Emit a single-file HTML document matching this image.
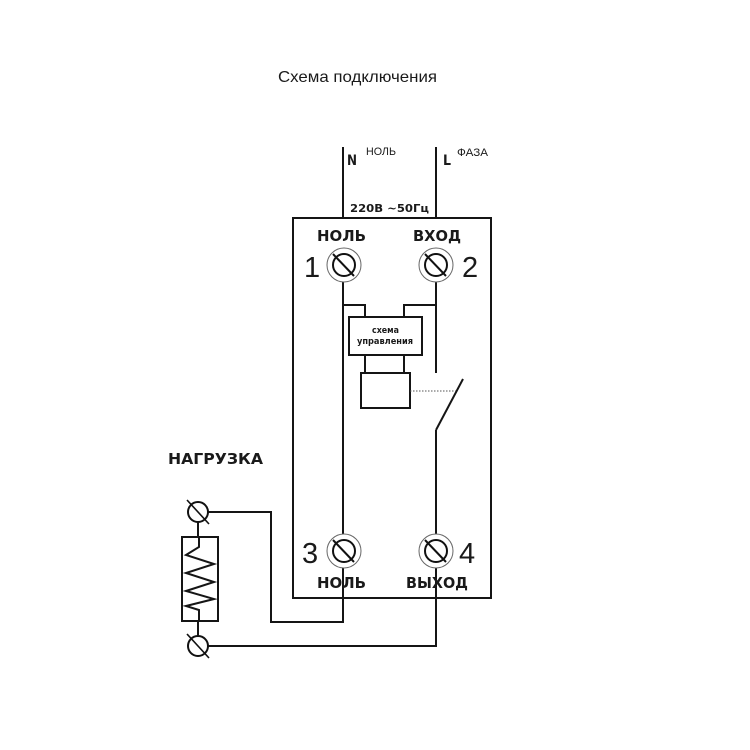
<!DOCTYPE html>
<html>
<head>
<meta charset="utf-8">
<style>
html,body{margin:0;padding:0;background:#fff;}
svg{display:block;}
.b{font-family:"DejaVu Sans","Liberation Sans",sans-serif;font-weight:bold;fill:#1a1a1a;}
.r{font-family:"Liberation Sans","DejaVu Sans",sans-serif;fill:#1a1a1a;}
</style>
</head>
<body>
<svg width="750" height="750" viewBox="0 0 750 750" xmlns="http://www.w3.org/2000/svg">
  <rect width="750" height="750" fill="#fff"/>
  <!-- title -->
  <text class="r" x="278" y="82" font-size="16" textLength="159" lengthAdjust="spacingAndGlyphs">Схема подключения</text>

  <!-- N / L supply lines -->
  <g stroke="#151515" stroke-width="2" fill="none">
    <line x1="343" y1="147" x2="343" y2="218"/>
    <line x1="436" y1="147" x2="436" y2="218"/>
    <!-- main box -->
    <rect x="293" y="218" width="198" height="380"/>
    <!-- left column -->
    <line x1="343" y1="282" x2="343" y2="534"/>
    <!-- right column top -->
    <line x1="436" y1="282" x2="436" y2="373"/>
    <!-- switch -->
    <line x1="436" y1="430" x2="463" y2="379"/>
    <line x1="436" y1="430" x2="436" y2="534"/>
    <!-- control connections -->
    <polyline points="343,305 365,305 365,317"/>
    <polyline points="436,305 404,305 404,317"/>
    <rect x="349" y="317" width="73" height="38"/>
    <line x1="365" y1="355" x2="365" y2="373"/>
    <line x1="404" y1="355" x2="404" y2="373"/>
    <rect x="361" y="373" width="49" height="35"/>
    <!-- bottom wiring -->
    <polyline points="343,568 343,622 271,622 271,512 208,512"/>
    <polyline points="436,568 436,646 208,646"/>
    <!-- load -->
    <line x1="198" y1="522" x2="198" y2="537"/>
    <line x1="198" y1="621" x2="198" y2="636"/>
    <rect x="182" y="537" width="36" height="84"/>
    <polyline points="199,537 199,547 186,555 214,564 186,573 214,582 186,591 214,599 186,606 199,610 199,621"/>
  </g>
  <!-- dotted link -->
  <line x1="410" y1="391" x2="456" y2="391" stroke="#555" stroke-width="1" stroke-dasharray="1.5,1.5"/>

  <!-- terminals -->
  <g fill="none">
    <g transform="translate(344,265)">
      <circle r="17" stroke="#666" stroke-width="1"/>
      <circle r="11" stroke="#111" stroke-width="2"/>
      <line x1="-11" y1="-11" x2="10" y2="11" stroke="#111" stroke-width="2"/>
    </g>
    <g transform="translate(436,265)">
      <circle r="17" stroke="#666" stroke-width="1"/>
      <circle r="11" stroke="#111" stroke-width="2"/>
      <line x1="-11" y1="-11" x2="10" y2="11" stroke="#111" stroke-width="2"/>
    </g>
    <g transform="translate(344,551)">
      <circle r="17" stroke="#666" stroke-width="1"/>
      <circle r="11" stroke="#111" stroke-width="2"/>
      <line x1="-11" y1="-11" x2="10" y2="11" stroke="#111" stroke-width="2"/>
    </g>
    <g transform="translate(436,551)">
      <circle r="17" stroke="#666" stroke-width="1"/>
      <circle r="11" stroke="#111" stroke-width="2"/>
      <line x1="-11" y1="-11" x2="10" y2="11" stroke="#111" stroke-width="2"/>
    </g>
    <g transform="translate(198,512)">
      <circle r="10" stroke="#111" stroke-width="2" fill="#fff"/>
      <line x1="-11" y1="-12" x2="11" y2="12" stroke="#111" stroke-width="1.6"/>
    </g>
    <g transform="translate(198,646)">
      <circle r="10" stroke="#111" stroke-width="2" fill="#fff"/>
      <line x1="-11" y1="-12" x2="11" y2="12" stroke="#111" stroke-width="1.6"/>
    </g>
  </g>

  <!-- labels -->
  <text class="b" x="347" y="165" font-size="14" textLength="10" lengthAdjust="spacingAndGlyphs">N</text>
  <text class="r" x="366" y="155" font-size="11" fill="#333" textLength="30" lengthAdjust="spacingAndGlyphs">НОЛЬ</text>
  <text class="b" x="443" y="165" font-size="14" textLength="8" lengthAdjust="spacingAndGlyphs">L</text>
  <text class="r" x="457" y="156" font-size="11" fill="#333" textLength="31" lengthAdjust="spacingAndGlyphs">ФАЗА</text>
  <text class="b" x="350" y="212" font-size="11" textLength="79" lengthAdjust="spacingAndGlyphs">220В ~50Гц</text>

  <text class="b" x="317" y="241" font-size="15" textLength="49" lengthAdjust="spacingAndGlyphs">НОЛЬ</text>
  <text class="b" x="413" y="241" font-size="15" textLength="48" lengthAdjust="spacingAndGlyphs">ВХОД</text>
  <text class="b" x="317" y="588" font-size="15" textLength="49" lengthAdjust="spacingAndGlyphs">НОЛЬ</text>
  <text class="b" x="406" y="588" font-size="15" textLength="62" lengthAdjust="spacingAndGlyphs">ВЫХОД</text>

  <text class="r" x="304" y="277" font-size="29">1</text>
  <text class="r" x="462" y="277" font-size="29">2</text>
  <text class="r" x="302" y="563" font-size="29">3</text>
  <text class="r" x="459" y="563" font-size="29">4</text>

  <text class="b" x="372" y="333" font-size="9" textLength="27" lengthAdjust="spacingAndGlyphs">схема</text>
  <text class="b" x="357" y="344" font-size="9" textLength="56" lengthAdjust="spacingAndGlyphs">управления</text>

  <text class="b" x="168" y="464" font-size="15" textLength="95" lengthAdjust="spacingAndGlyphs">НАГРУЗКА</text>
</svg>
</body>
</html>
